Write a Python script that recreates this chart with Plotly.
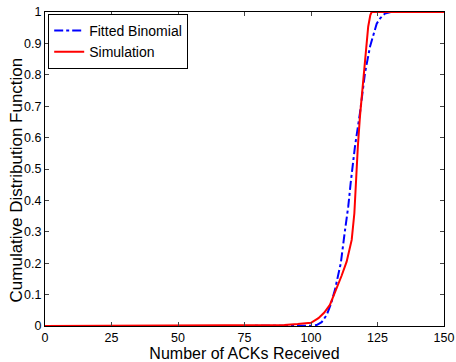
import plotly.graph_objects as go

# Fitted Binomial CDF
binom_x = [0, 98, 100, 102.1, 104, 105.9, 107.5, 109, 111.2, 112.8, 114, 114.9,
           116.5, 118.4, 120.3, 122.2, 124.7, 126, 127.8, 130, 150]
binom_y = [0, 0, 0.0005, 0.003, 0.012, 0.035, 0.07, 0.115, 0.2, 0.306, 0.38, 0.454,
           0.57, 0.678, 0.806, 0.89, 0.963, 0.98, 0.995, 1.0, 1.0]

# Simulation CDF
sim_x = [0, 80, 90, 95, 100, 102.8, 105, 107.1, 109.9, 111.5, 113.4, 115.3,
         116.3, 116.9, 117.6, 118.4, 119.3, 120.3, 121.5, 122.3, 122.8, 150]
sim_y = [0, 0.001, 0.003, 0.006, 0.01, 0.025, 0.043, 0.067, 0.125, 0.16, 0.205, 0.274,
         0.359, 0.465, 0.57, 0.667, 0.75, 0.826, 0.953, 0.99, 1.0, 1.0]

x_ticks = [0, 25, 50, 75, 100, 125, 150]
y_ticks = [0, 0.1, 0.2, 0.3, 0.4, 0.5, 0.6, 0.7, 0.8, 0.9, 1]
y_tick_text = ["0", "0.1", "0.2", "0.3", "0.4", "0.5", "0.6", "0.7", "0.8", "0.9", "1"]

fig = go.Figure()
fig.add_trace(go.Scatter(x=binom_x, y=binom_y, mode="lines", name="Fitted Binomial",
                         line=dict(color="#0000ff", width=2, dash="dashdot")))
fig.add_trace(go.Scatter(x=sim_x, y=sim_y, mode="lines", name="Simulation",
                         line=dict(color="#ff0000", width=2)))

font_family = "Liberation Sans, Arial, sans-serif"
fig.update_layout(
    width=456, height=362,
    margin=dict(l=45, r=12, t=12, b=36),
    paper_bgcolor="white", plot_bgcolor="white",
    font=dict(family=font_family, color="black", size=12),
    showlegend=True,
    legend=dict(x=0.008, y=0.994, xanchor="left", yanchor="top",
                bgcolor="white", bordercolor="black", borderwidth=1,
                font=dict(size=14, family=font_family), itemwidth=30,
                tracegroupgap=0),
    annotations=[dict(text="Cumulative Distribution Function", textangle=-90,
                      xref="paper", yref="paper", x=-0.069, y=0.465,
                      xanchor="center", yanchor="middle", showarrow=False,
                      font=dict(size=17, family=font_family, color="black"))],
)
fig.update_xaxes(range=[0, 150], tickvals=x_ticks, ticks="inside", ticklen=4,
                 showline=True, linecolor="black", linewidth=1, mirror="ticks",
                 showgrid=False, zeroline=False, tickfont=dict(size=12.5), automargin=False,
                 title=dict(text="Number of ACKs Received", font=dict(size=16), standoff=0))
fig.update_yaxes(range=[0, 1], tickvals=y_ticks, ticktext=y_tick_text, ticks="inside", ticklen=4,
                 showline=True, linecolor="black", linewidth=1, mirror="ticks",
                 showgrid=False, zeroline=False, tickfont=dict(size=12.5), automargin=False)

fig.write_html("out.html")
